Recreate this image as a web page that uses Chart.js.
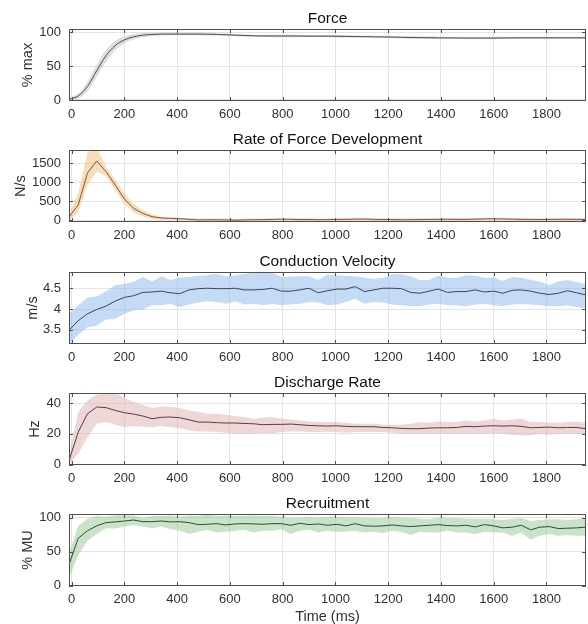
<!DOCTYPE html>
<html>
<head>
<meta charset="utf-8">
<script src="https://cdn.jsdelivr.net/npm/chart.js@4.4.1/dist/chart.umd.min.js"></script>
<style>
  html, body { margin: 0; padding: 0; background: #fff; }
  #wrap { position: relative; width: 588px; height: 624px; overflow: hidden; }
  #wrap canvas { position: absolute; left: 0; }
</style>
</head>
<body>
<div id="wrap"></div>
<script>
// ===== DATA =====
const timeMs = [
  -10, 25, 60, 95, 130, 165, 200, 235, 270, 305,
  340, 375, 410, 445, 480, 515, 550, 585, 620, 655,
  690, 725, 760, 795, 830, 865, 900, 935, 970, 1005,
  1040, 1075, 1110, 1145, 1180, 1215, 1250, 1285, 1320, 1355,
  1390, 1425, 1460, 1495, 1530, 1565, 1600, 1635, 1670, 1705,
  1740, 1775, 1810, 1845, 1880, 1915, 1950,
];
const xTicks = [0, 200, 400, 600, 800, 1000, 1200, 1400, 1600, 1800];

// Force (% max)
const forceMean = [
  1, 6, 20, 43, 65, 80, 88.5, 93, 95.5, 96.5,
  97, 97, 97, 97, 97, 96.8, 96.5, 96, 95.5, 95,
  94.5, 94.3, 94.2, 94.2, 94.2, 94.1, 94, 94, 94, 93.8,
  93.6, 93.4, 93.2, 93, 92.8, 92.6, 92.3, 92, 91.8, 91.6,
  91.5, 91.4, 91.3, 91.2, 91.2, 91.2, 91.2, 91.3, 91.4, 91.5,
  91.5, 91.5, 91.5, 91.5, 91.5, 91.5, 91.5,
];
const forceUpper = [
  3, 10, 27, 52, 74, 87, 93.5, 97, 98.5, 99,
  99, 98.8, 98.8, 98.8, 98.8, 98.5, 98.2, 97.7, 97.2, 96.7,
  96.2, 96, 95.9, 95.9, 95.9, 95.8, 95.7, 95.7, 95.7, 95.5,
  95.3, 95.1, 94.9, 94.7, 94.5, 94.3, 94, 93.7, 93.5, 93.3,
  93.2, 93.1, 93, 92.9, 92.9, 92.9, 92.9, 93, 93.1, 93.2,
  93.2, 93.2, 93.2, 93.2, 93.2, 93.2, 93.2,
];
const forceLower = [
  -1, 2, 13, 34, 56, 73, 83.5, 89, 92.5, 94,
  95, 95.2, 95.2, 95.2, 95.2, 95.1, 94.8, 94.3, 93.8, 93.3,
  92.8, 92.6, 92.5, 92.5, 92.5, 92.4, 92.3, 92.3, 92.3, 92.1,
  91.9, 91.7, 91.5, 91.3, 91.1, 90.9, 90.6, 90.3, 90.1, 89.9,
  89.8, 89.7, 89.6, 89.5, 89.5, 89.5, 89.5, 89.6, 89.7, 89.8,
  89.8, 89.8, 89.8, 89.8, 89.8, 89.8, 89.8,
];
const forceTicks = [0, 50, 100];

// Rate of force development (N/s)
const rfdMean = [
  80, 400, 1240, 1555, 1280, 925, 555, 310, 175, 90,
  55, 45, 35, 20, 5, 8, 10, 5, 0, 5,
  10, 12, 18, 25, 20, 15, 15, 10, 12, 18,
  20, 25, 28, 20, 15, 15, 10, 12, 15, 18,
  20, 22, 18, 20, 25, 30, 35, 30, 25, 20,
  18, 15, 18, 20, 22, 20, 18,
];
const rfdUpper = [
  150, 700, 1780, 1900, 1410, 1060, 705, 415, 265, 150,
  90, 70, 60, 50, 40, 40, 40, 35, 30, 35,
  40, 45, 50, 55, 50, 45, 45, 40, 42, 48,
  50, 55, 60, 50, 45, 45, 40, 42, 45, 48,
  50, 52, 48, 50, 55, 60, 65, 60, 55, 50,
  48, 45, 48, 50, 52, 50, 48,
];
const rfdLower = [
  0, 200, 925, 1280, 1150, 795, 440, 200, 95, 25,
  10, 10, 5, 0, -20, -20, -15, -20, -25, -20,
  -15, -15, -10, -5, -10, -15, -15, -20, -18, -12,
  -10, -5, -2, -10, -15, -15, -20, -18, -15, -12,
  -10, -8, -12, -10, -5, 0, 5, 0, -5, -10,
  -12, -15, -12, -10, -8, -10, -12,
];
const rfdTicks = [0, 500, 1000, 1500];

// Conduction velocity (m/s)
const cvMean = [
  3.49, 3.72, 3.885, 3.99, 4.07, 4.19, 4.28, 4.32, 4.4, 4.41,
  4.43, 4.39, 4.37, 4.46, 4.49, 4.5, 4.49, 4.49, 4.5, 4.46,
  4.46, 4.47, 4.5, 4.43, 4.43, 4.46, 4.5, 4.39, 4.44, 4.48,
  4.48, 4.54, 4.42, 4.46, 4.5, 4.5, 4.49, 4.4, 4.38, 4.43,
  4.48, 4.4, 4.42, 4.42, 4.46, 4.41, 4.43, 4.38, 4.45, 4.46,
  4.43, 4.38, 4.35, 4.38, 4.44, 4.39, 4.34,
];
const cvUpper = [
  3.885, 4.09, 4.27, 4.3, 4.42, 4.57, 4.61, 4.65, 4.77, 4.66,
  4.79, 4.7, 4.75, 4.77, 4.8, 4.81, 4.85, 4.79, 4.81, 4.84,
  4.87, 4.89, 4.87, 4.77, 4.78, 4.79, 4.79, 4.7, 4.83, 4.81,
  4.8, 4.79, 4.75, 4.72, 4.75, 4.83, 4.84, 4.79, 4.7, 4.7,
  4.8, 4.75, 4.75, 4.81, 4.8, 4.75, 4.75, 4.68, 4.77, 4.75,
  4.7, 4.66, 4.58, 4.66, 4.7, 4.65, 4.6,
];
const cvLower = [
  3.15, 3.39, 3.56, 3.6, 3.75, 3.76, 3.885, 3.97, 3.99, 4.09,
  4.09, 4.13, 4.05, 4.11, 4.16, 4.19, 4.17, 4.13, 4.19, 4.11,
  4.13, 4.09, 4.13, 4.09, 4.11, 4.13, 4.17, 4.16, 4.09, 4.11,
  4.17, 4.25, 4.13, 4.17, 4.16, 4.11, 4.09, 4.07, 4.07, 4.11,
  4.13, 4.09, 4.09, 4.07, 4.11, 4.13, 4.09, 4.07, 4.11, 4.12,
  4.11, 4.09, 4.07, 4.07, 4.09, 4.05, 4.02,
];
const cvTicks = [3.5, 4, 4.5];

// Discharge rate (Hz)
const drMean = [
  2.6, 21.1, 33, 37.4, 37, 35.2, 33.7, 32.8, 31.5, 29.8,
  30.7, 30.9, 30.4, 29.1, 27.6, 27.6, 27.2, 27, 27, 26.7,
  26.5, 25.9, 26.1, 26.1, 26.3, 25.9, 25.4, 25.2, 25, 25.2,
  24.8, 24.6, 24.6, 24.6, 24.1, 23.9, 23.5, 23.3, 23.3, 23.7,
  23.9, 23.9, 24.1, 24.8, 24.6, 25, 25.2, 25, 25.2, 24.8,
  23.9, 24.1, 24.3, 23.9, 24.1, 24.1, 23.3,
];
const drUpper = [
  5.9, 34.1, 41.7, 45.4, 47, 47, 43.3, 40.7, 38.9, 36.7,
  37.8, 37.4, 36.7, 35.2, 34.1, 33, 33, 32.4, 31.5, 30.9,
  29.8, 30.4, 30.9, 29.8, 29.3, 28.7, 28, 27.6, 27.6, 27.6,
  27.2, 26.5, 26.5, 26.5, 25.9, 25.9, 25.9, 26.5, 27.6, 27.2,
  28, 27.6, 27.6, 28.7, 28, 28.7, 29.8, 28.7, 29.3, 29.8,
  27.6, 27.6, 27.2, 27.2, 27.6, 28, 27.2,
];
const drLower = [
  0, 7, 17.8, 26.5, 27.6, 25.9, 24.3, 25, 24.8, 24.3,
  25, 24.3, 23.7, 22.2, 21.5, 21.5, 21.1, 20.7, 20, 20,
  20, 20.4, 20.4, 21.1, 21.5, 21.5, 21.1, 21.1, 21.1, 21.1,
  20.7, 21.1, 21.1, 21.1, 21.1, 20.7, 20, 20, 20, 20,
  20, 20, 20, 20, 20, 20, 20.4, 20, 19.3, 18.9,
  18.9, 20, 19.3, 20, 20, 20, 19.8,
];
const drTicks = [0, 20, 40];

// Recruitment (% MU)
const recMean = [
  31.3, 69.7, 80.8, 88, 92.8, 93.8, 95.2, 96.6, 94.2, 94.2,
  95.2, 93.8, 94.2, 92.8, 89.9, 90.4, 91.3, 89.4, 90.9, 91.3,
  90.9, 90.4, 91.3, 91.3, 88.9, 91.8, 89.9, 90.9, 88.9, 90.4,
  88, 91.3, 88, 87.5, 88, 89.4, 88, 87, 88, 88.9,
  89.9, 88.5, 88, 88.9, 86.5, 89.9, 88, 85.1, 86.1, 88.9,
  82.2, 86.1, 87, 84.1, 84.6, 85.1, 86.1,
];
const recUpper = [
  47.1, 88, 98.6, 102.4, 101.4, 103.4, 103.8, 103.4, 100, 102.4,
  102.4, 103.4, 101.4, 103.4, 102.4, 104.8, 102.4, 103.4, 102.4, 102.4,
  103.4, 102.4, 102.4, 101.4, 100, 100, 101.4, 100, 101.4, 101.4,
  100.5, 100.5, 100, 100, 99.5, 101.4, 100, 100, 98.6, 97.6,
  100.5, 99.5, 99.5, 98.6, 98.6, 98.6, 97.6, 96.6, 98.6, 99.5,
  95.2, 96.6, 97.6, 97.6, 96.6, 97.6, 98.6,
];
const recLower = [
  11.1, 44.7, 66.3, 76, 84.6, 84.1, 87, 88.9, 87, 84.1,
  87, 83.2, 80.8, 76, 79.3, 82.2, 78.4, 79.3, 80.8, 82.2,
  78.4, 80.8, 80.8, 83.2, 76, 80.8, 82.2, 78.4, 80.8, 79.3,
  79.3, 80.8, 78.4, 79.3, 77.4, 80.8, 79.3, 74.5, 79.3, 78.4,
  78.4, 80.8, 78.4, 78.4, 76, 79.3, 78.4, 78.4, 73.6, 78.4,
  67.8, 73.6, 76, 73.6, 74.5, 73.6, 73.6,
];
const recTicks = [0, 50, 100];

// ===== LAYOUT / STYLE =====
const W = 588;
const TITLE_H = 22;
const PLOT_H = 72;
const Y_W = 69;
const X_MIN = -10, X_MAX = 1950;
const FONT = "'Liberation Sans', Arial, Helvetica, sans-serif";
const TXT = "#303030";
const GRID = "#e4e4e4";
const AXIS = "#505050";

const panels = [
  { title: "Force", yTitle: "% max", mean: forceMean, lower: forceLower, upper: forceUpper,
    ticks: forceTicks, yMin: -1.5, yMax: 104.5, top: 29, labelPad: 19.3,
    line: "#4a4a4a", band: "rgba(190,190,190,0.5)", smooth: true },
  { title: "Rate of Force Development", yTitle: "N/s", mean: rfdMean, lower: rfdLower, upper: rfdUpper,
    ticks: rfdTicks, yMin: -50, yMax: 1845, top: 150, labelPad: 11.8,
    line: "#8c4a48", band: "rgba(235,189,113,0.5)" },
  { title: "Conduction Velocity", yTitle: "m/s", mean: cvMean, lower: cvLower, upper: cvUpper,
    ticks: cvTicks, yMin: 3.16, yMax: 4.89, top: 272, labelPad: 24.3,
    line: "#3b4656", band: "rgba(137,181,235,0.5)" },
  { title: "Discharge Rate", yTitle: "Hz", mean: drMean, lower: drLower, upper: drUpper,
    ticks: drTicks, yMin: -0.3, yMax: 46.5, top: 393, labelPad: 26.3,
    line: "#5c3a44", band: "rgba(219,175,175,0.5)" },
  { title: "Recruitment", yTitle: "% MU", mean: recMean, lower: recLower, upper: recUpper,
    ticks: recTicks, yMin: -0.5, yMax: 105.5, top: 514, labelPad: 19.3,
    line: "#2e4a36", band: "rgba(145,199,145,0.5)" },
];

// box round the plot + inward ticks (like MATLAB "box on")
const framePlugin = {
  id: "frame",
  afterDatasetsDraw(chart) {
    const { ctx, chartArea: a, scales } = chart;
    const tl = 4;
    ctx.save();
    ctx.strokeStyle = AXIS;
    ctx.lineWidth = 1;
    ctx.beginPath();
    scales.x.ticks.forEach((t) => {
      const px = Math.round(scales.x.getPixelForValue(t.value)) + 0.5;
      ctx.moveTo(px, a.bottom); ctx.lineTo(px, a.bottom - tl);
      ctx.moveTo(px, a.top); ctx.lineTo(px, a.top + tl);
    });
    scales.y.ticks.forEach((t) => {
      const py = Math.round(scales.y.getPixelForValue(t.value)) + 0.5;
      ctx.moveTo(a.left, py); ctx.lineTo(a.left + tl, py);
      ctx.moveTo(a.right, py); ctx.lineTo(a.right - tl, py);
    });
    ctx.stroke();
    ctx.strokeRect(Math.round(a.left) + 0.5, Math.round(a.top) + 0.5,
      Math.round(a.right - a.left) - 1, Math.round(a.bottom - a.top) - 1);
    ctx.restore();
  },
};

const pts = (vals) => timeMs.map((t, i) => ({ x: t, y: vals[i] }));

// ===== CHARTS =====
const wrap = document.getElementById("wrap");
panels.forEach((p, i) => {
  const last = i === panels.length - 1;
  const xH = last ? 40 : 24;
  const cv = document.createElement("canvas");
  cv.width = W;
  cv.height = TITLE_H + PLOT_H + xH;
  cv.style.top = p.top - TITLE_H + "px";
  cv.style.width = W + "px";
  cv.style.height = cv.height + "px";
  wrap.appendChild(cv);

  const interp = p.smooth ? "monotone" : "default";
  new Chart(cv, {
    type: "line",
    data: {
      datasets: [
        { data: pts(p.mean), borderColor: p.line, borderWidth: 1, pointRadius: 0,
          fill: false, tension: 0, cubicInterpolationMode: interp },
        { data: pts(p.lower), borderColor: "transparent", borderWidth: 0, pointRadius: 0,
          fill: false, tension: 0, cubicInterpolationMode: interp },
        { data: pts(p.upper), borderColor: "transparent", borderWidth: 0, pointRadius: 0,
          fill: "-1", backgroundColor: p.band, tension: 0, cubicInterpolationMode: interp },
      ],
    },
    options: {
      responsive: false,
      animation: false,
      devicePixelRatio: 1,
      layout: { padding: { left: 0, right: 2, top: 0, bottom: 0 } },
      plugins: {
        legend: { display: false },
        tooltip: { enabled: false },
        title: {
          display: true, text: p.title, color: "#111", fullSize: false,
          font: { family: FONT, size: 15.5, weight: "normal" },
          padding: { top: 2, bottom: 1.4 },
        },
      },
      scales: {
        x: {
          type: "linear", min: X_MIN, max: X_MAX,
          afterBuildTicks: (s) => { s.ticks = xTicks.map((v) => ({ value: v })); },
          afterFit: (s) => { s.height = xH; },
          grid: { color: GRID, drawTicks: false },
          border: { display: false },
          ticks: { padding: 6, color: TXT, maxRotation: 0, autoSkip: false,
            font: { family: FONT, size: 13 }, callback: (v) => String(v) },
          title: { display: last, text: "Time (ms)", color: TXT,
            font: { family: FONT, size: 14.5 }, padding: { top: 0, bottom: 0 } },
        },
        y: {
          type: "linear", min: p.yMin, max: p.yMax,
          afterBuildTicks: (s) => { s.ticks = p.ticks.map((v) => ({ value: v })); },
          afterFit: (s) => { s.width = Y_W; },
          grid: { color: GRID, drawTicks: false },
          border: { display: false },
          ticks: { padding: 8, color: TXT, autoSkip: false,
            font: { family: FONT, size: 13 }, callback: (v) => String(v) },
          title: { display: true, text: p.yTitle, color: TXT,
            font: { family: FONT, size: 14.5 }, padding: { top: p.labelPad, bottom: 0 } },
        },
      },
    },
    plugins: [framePlugin],
  });
});
</script>
</body>
</html>
